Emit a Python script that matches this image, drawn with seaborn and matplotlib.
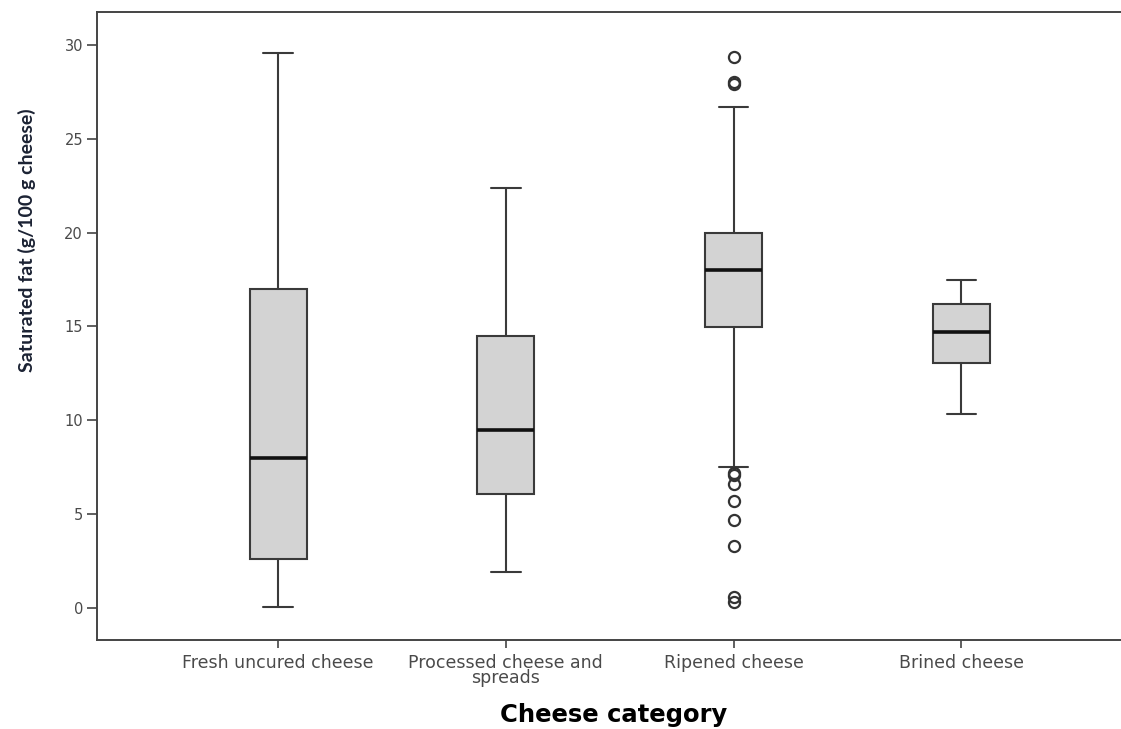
import matplotlib
matplotlib.use("Agg")
import matplotlib.pyplot as plt
import seaborn as sns

categories = ["Fresh uncured cheese", "Processed cheese and\nspreads", "Ripened cheese", "Brined cheese"]
whisker_low = [0.05, 1.9, 7.5, 10.35]
q1 = [2.6, 6.05, 14.95, 13.05]
median = [8.0, 9.5, 18.0, 14.7]
q3 = [17.0, 14.5, 20.0, 16.2]
whisker_high = [29.55, 22.4, 26.7, 17.5]
outliers = [[], [], [29.35, 28.0, 27.9, 7.2, 7.1, 6.6, 5.7, 4.7, 3.3, 0.6, 0.35], []]
yticks = [0, 5, 10, 15, 20, 25, 30]

sns.set_style("white")
plt.rcParams["font.family"] = ["DejaVu Sans"]

fig = plt.figure(figsize=(11.21, 7.29), dpi=100)
ax = fig.add_axes([97 / 1121, 89 / 729, 1 - 97 / 1121 + 0.01, (640 - 12) / 729])

stats = []
for i, c in enumerate(categories):
    stats.append(dict(label=c, whislo=whisker_low[i], q1=q1[i], med=median[i],
                      q3=q3[i], whishi=whisker_high[i], fliers=outliers[i]))

ax.bxp(stats, positions=range(len(categories)), widths=0.25, capwidths=0.13,
       patch_artist=True,
       boxprops=dict(facecolor="#d3d3d3", edgecolor="#3a3a3a", linewidth=1.5),
       medianprops=dict(color="#111111", linewidth=2.6),
       whiskerprops=dict(color="#3a3a3a", linewidth=1.5),
       capprops=dict(color="#3a3a3a", linewidth=1.5),
       flierprops=dict(marker="o", markersize=8, markerfacecolor="none",
                       markeredgecolor="#333333", markeredgewidth=1.6))

ax.set_xlim(-0.795, 3.75)
ax.set_ylim(-1.7, 31.75)
ax.set_yticks(yticks)
ax.set_yticklabels([str(t) for t in yticks])
ax.set_xticks(range(len(categories)))
ax.set_xticklabels(categories, fontsize=12.5, color="#4a4a4a", linespacing=0.8)
ax.tick_params(axis="y", labelsize=10.5, labelcolor="#4a4a4a", length=7, width=1.2,
               color="#444444", direction="out", left=True, pad=3)
ax.tick_params(axis="x", length=6, width=1.2, color="#444444", direction="out",
               bottom=True, pad=4)

for s in ["left", "bottom", "top"]:
    ax.spines[s].set_color("#444444")
    ax.spines[s].set_linewidth(1.4)
ax.spines["right"].set_visible(False)

fig.text(27 / 1121, 1 - 240 / 729, "Saturated fat (g/100 g cheese)", rotation=90,
         ha="center", va="center", fontsize=14, fontweight="bold",
         color="#1b2233", family=["Lato", "DejaVu Sans"])
fig.text(614 / 1121, 7 / 729, "Cheese category", ha="center", va="baseline",
         fontsize=17.5, fontweight="bold", color="#000000")

fig.savefig("out.png", dpi=100)
